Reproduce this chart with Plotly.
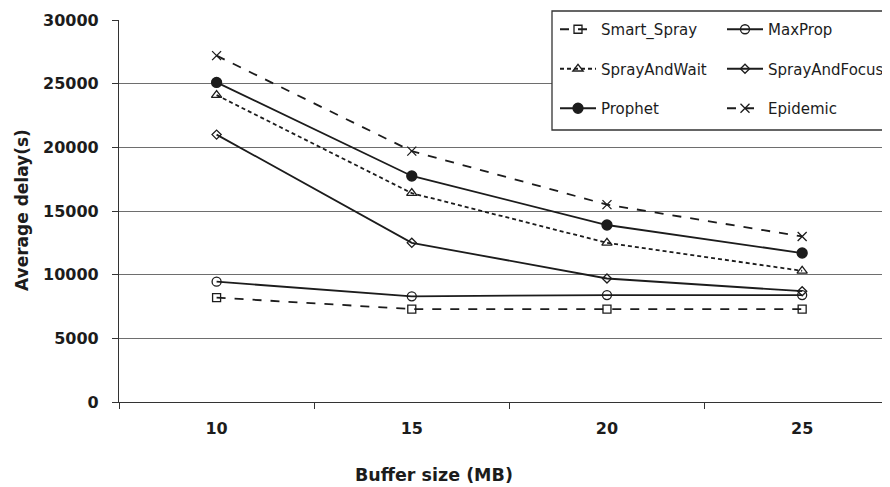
import plotly.graph_objects as go

buffer_sizes = ["10", "15", "20", "25"]
smart_spray = [8200, 7300, 7300, 7300]
maxprop = [9450, 8300, 8400, 8400]
spray_and_wait = [24100, 16400, 12500, 10300]
spray_and_focus = [21000, 12500, 9700, 8700]
prophet = [25100, 17750, 13900, 11700]
epidemic = [27200, 19700, 15500, 13000]
y_ticks = [0, 5000, 10000, 15000, 20000, 25000, 30000]
y_tick_text = ["0", "5000", "10000", "15000", "20000", "25000", "30000"]

INK = "#1c1c1c"
FONT = "DejaVu Sans"

# the page body has an 8px default margin; size the figure to fit the window
OFF = 8
W, H = 890 - OFF, 487 - OFF
L, R, T, B = 119 - OFF, 0, 20 - OFF, 85
PW, PH = W - L - R, H - T - B


def px_x(px):
    """screen pixel x -> paper coordinate"""
    return (px - OFF - L) / PW


def px_y(py):
    """screen pixel y -> paper coordinate"""
    return (H - B - (py - OFF)) / PH


series = [
    ("Smart_Spray", smart_spray, "dash", "square-open", 8, "legend"),
    ("MaxProp", maxprop, "solid", "circle-open", 9, "legend2"),
    ("SprayAndWait", spray_and_wait, "4px,3px", "triangle-up-open", 9, "legend"),
    ("SprayAndFocus", spray_and_focus, "solid", "diamond-open", 7, "legend2"),
    ("Prophet", prophet, "solid", "circle", 10, "legend"),
    ("Epidemic", epidemic, "dash", "x-thin-open", 9, "legend2"),
]

fig = go.Figure()
for name, vals, dash, sym, size, leg in series:
    fig.add_trace(go.Scatter(
        x=buffer_sizes, y=vals, name=name, mode="lines+markers",
        line=dict(color=INK, width=1.8, dash=dash),
        marker=dict(symbol=sym, size=size, color=INK,
                    line=dict(color=INK, width=1.3)),
        legend=leg, legendgroup=name,
    ))

legend_common = dict(
    orientation="v", xanchor="left", yanchor="top",
    bgcolor="rgba(255,255,255,0)", borderwidth=0,
    font=dict(family=FONT, size=15, color=INK),
    tracegroupgap=17, itemwidth=36,
)

fig.update_layout(
    width=W, height=H,
    margin=dict(l=L, r=R, t=T, b=B),
    paper_bgcolor="white", plot_bgcolor="white",
    font=dict(family=FONT, color=INK),
    showlegend=True,
    legend=dict(x=px_x(555), y=px_y(13), **legend_common),
    legend2=dict(x=px_x(722), y=px_y(13), **legend_common),
    xaxis=dict(
        type="category", range=[-0.5, 3.45],
        showline=True, linecolor="#333", linewidth=1.2,
        ticks="outside", tickson="boundaries", ticklen=6, tickcolor="#333",
        showgrid=False, zeroline=False,
        tickfont=dict(family=FONT, size=16, color=INK, weight="bold"),
        ticklabelstandoff=12,
    ),
    yaxis=dict(
        range=[0, 30000], tickvals=y_ticks, ticktext=y_tick_text,
        showline=True, linecolor="#333", linewidth=1.2,
        ticks="outside", ticklen=6, tickcolor="#333",
        showgrid=True, gridcolor="#6e6e6e", gridwidth=1.2,
        zeroline=False,
        tickfont=dict(family=FONT, size=16, color=INK, weight="bold"),
        ticklabelstandoff=10,
    ),
    shapes=[dict(
        type="rect", xref="paper", yref="paper", layer="above",
        x0=px_x(552), x1=px_x(895), y0=px_y(130), y1=px_y(11),
        line=dict(color="#333", width=1.3), fillcolor="white",
    )],
    annotations=[
        dict(text="<b>Buffer size (MB)</b>", xref="paper", yref="paper",
             x=px_x(434), y=px_y(475), xanchor="center", yanchor="middle",
             showarrow=False, font=dict(family=FONT, size=17.5, color=INK)),
        dict(text="<b>Average delay(s)</b>", xref="paper", yref="paper",
             x=px_x(22), y=px_y(210), xanchor="center", yanchor="middle",
             textangle=-90, showarrow=False,
             font=dict(family=FONT, size=17, color=INK)),
    ],
)

fig.write_html("out.html")
